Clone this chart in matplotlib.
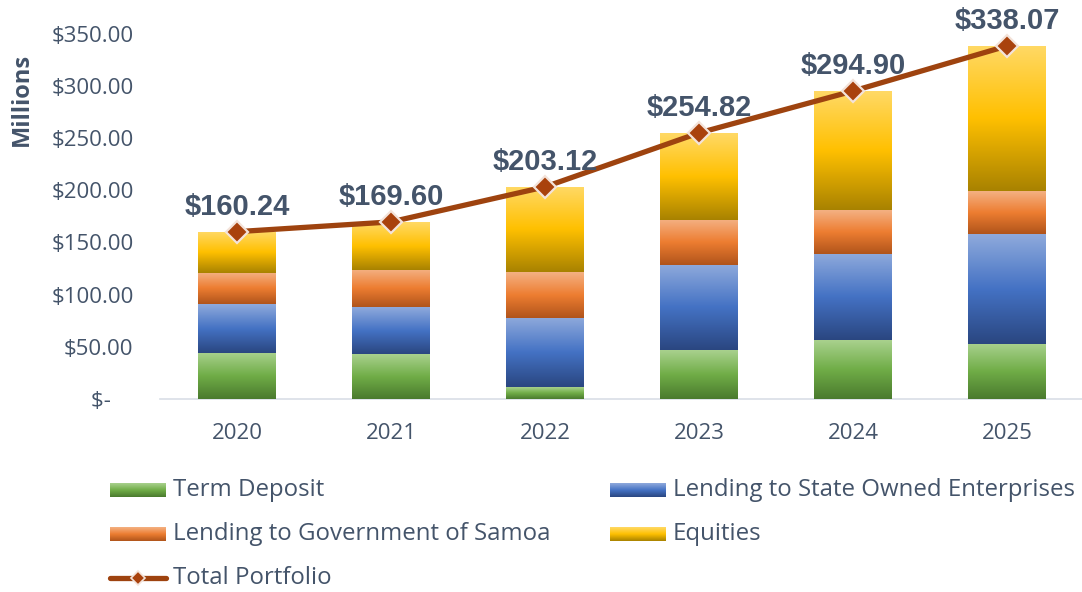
import matplotlib
matplotlib.use("Agg")
import matplotlib.pyplot as plt
import numpy as np
from matplotlib.colors import LinearSegmentedColormap
from matplotlib.lines import Line2D

plt.rcParams['font.family'] = ['Open Sans', 'DejaVu Sans']

years = ["2020", "2021", "2022", "2023", "2024", "2025"]
term_deposit = [44.4, 43.0, 11.2, 46.6, 56.2, 52.9]
lending_soe = [46.4, 45.0, 66.6, 81.6, 82.9, 105.0]
lending_gov = [29.7, 36.0, 43.4, 43.4, 42.1, 41.1]
total = [160.24, 169.60, 203.12, 254.82, 294.90, 338.07]
equities = [t - a - b - c for t, a, b, c in zip(total, term_deposit, lending_soe, lending_gov)]

series_names = ["Term Deposit", "Lending to State Owned Enterprises",
                "Lending to Government of Samoa", "Equities"]
series_vals = [term_deposit, lending_soe, lending_gov, equities]
grads = [
    ["#a9d18e", "#70ad47", "#4a7a2e"],
    ["#8faadc", "#4472c4", "#2a4680"],
    ["#f4b183", "#ed7d31", "#b0541b"],
    ["#ffd966", "#ffc000", "#a88200"],
]
text_col = "#44546a"
line_col = "#9e430f"

W, H = 1082, 592
fig = plt.figure(figsize=(W / 100, H / 100), dpi=100)
ax_l, ax_r, ax_t, ax_b = 160, 1084, 33.5, 399
ax = fig.add_axes([ax_l / W, 1 - ax_b / H, (ax_r - ax_l) / W, (ax_b - ax_t) / H])

x = np.arange(len(years))
bottom = np.zeros(len(years))
for name, vals, g in zip(series_names, series_vals, grads):
    cmap = LinearSegmentedColormap.from_list(name, g[::-1])
    bars = ax.bar(x, vals, width=0.505, bottom=bottom, color=g[1], label=name,
                  zorder=2, edgecolor="none")
    grad = np.linspace(0, 1, 256).reshape(-1, 1)
    for b in bars:
        x0, y0 = b.get_x(), b.get_y()
        im = ax.imshow(grad, cmap=cmap, origin="lower", aspect="auto",
                       extent=[x0, x0 + b.get_width(), y0, y0 + b.get_height()],
                       zorder=2.1, interpolation="bicubic")
        im.set_clip_path(b)
    bottom += np.array(vals)

ax.plot(x, total, color=line_col, lw=3.8, marker="D", markersize=11,
        markerfacecolor="#a9420d", markeredgecolor="#f3e3da", markeredgewidth=1.6,
        zorder=4, clip_on=False, solid_capstyle="round")
for xi, t in zip(x, total):
    ax.annotate(f"${t:,.2f}", (xi, t), xytext=(0, 8), textcoords="offset points",
                ha="center", va="bottom", fontsize=21, fontweight="bold",
                family=["Liberation Sans", "DejaVu Sans"],
                color=text_col, zorder=5, annotation_clip=False)

ax.set_xlim(-0.5, 5.5)
ax.set_ylim(0, 350)
ax.set_yticks(np.arange(0, 351, 50))
ax.set_yticklabels(["$-    "] + [f"${v:,.2f}" for v in np.arange(50, 351, 50)])
ax.set_xticks(x)
ax.set_xticklabels(years)
ax.tick_params(axis="both", length=0, labelsize=16, labelcolor=text_col)
ax.tick_params(axis="y", pad=19)
ax.tick_params(axis="x", pad=17)
for s in ["top", "right", "left"]:
    ax.spines[s].set_visible(False)
ax.spines["bottom"].set_color("#d9dee6")
ax.spines["bottom"].set_linewidth(1.2)
ax.spines["bottom"].set_zorder(1)
ax.patch.set_alpha(0)

fig.text(22 / W, 1 - 99 / H, "Millions", rotation=90, ha="center", va="center",
         fontsize=17, fontweight="bold", color=text_col)

# legend drawn in pixel coordinates
lg = fig.add_axes([0, 0, 1, 1])
lg.set_xlim(0, W)
lg.set_ylim(H, 0)
lg.axis("off")
lg.patch.set_alpha(0)
gradimg = np.linspace(0, 1, 64).reshape(-1, 1)
leg_pos = [(110, 490), (610, 490), (110, 534), (610, 534)]
for (px, py), name, g in zip(leg_pos, series_names, grads):
    cmap = LinearSegmentedColormap.from_list(name + "_l", g[::-1])
    lg.imshow(gradimg, cmap=cmap, origin="lower", aspect="auto",
              extent=[px, px + 56, py + 7, py - 7], interpolation="bicubic")
    lg.text(px + 63, py, name, fontsize=17.3, color=text_col, va="center", ha="left")
py = 578
lg.add_line(Line2D([110, 166], [py, py], color=line_col, lw=3.8, solid_capstyle="round"))
lg.add_line(Line2D([138], [py], marker="D", markersize=7, markerfacecolor="#a9420d",
                   markeredgecolor="#f3e3da", markeredgewidth=1.2, color=line_col))
lg.text(173, py, "Total Portfolio", fontsize=17.3, color=text_col, va="center", ha="left")
lg.set_xlim(0, W)
lg.set_ylim(H, 0)

fig.savefig("out.png", dpi=100)
